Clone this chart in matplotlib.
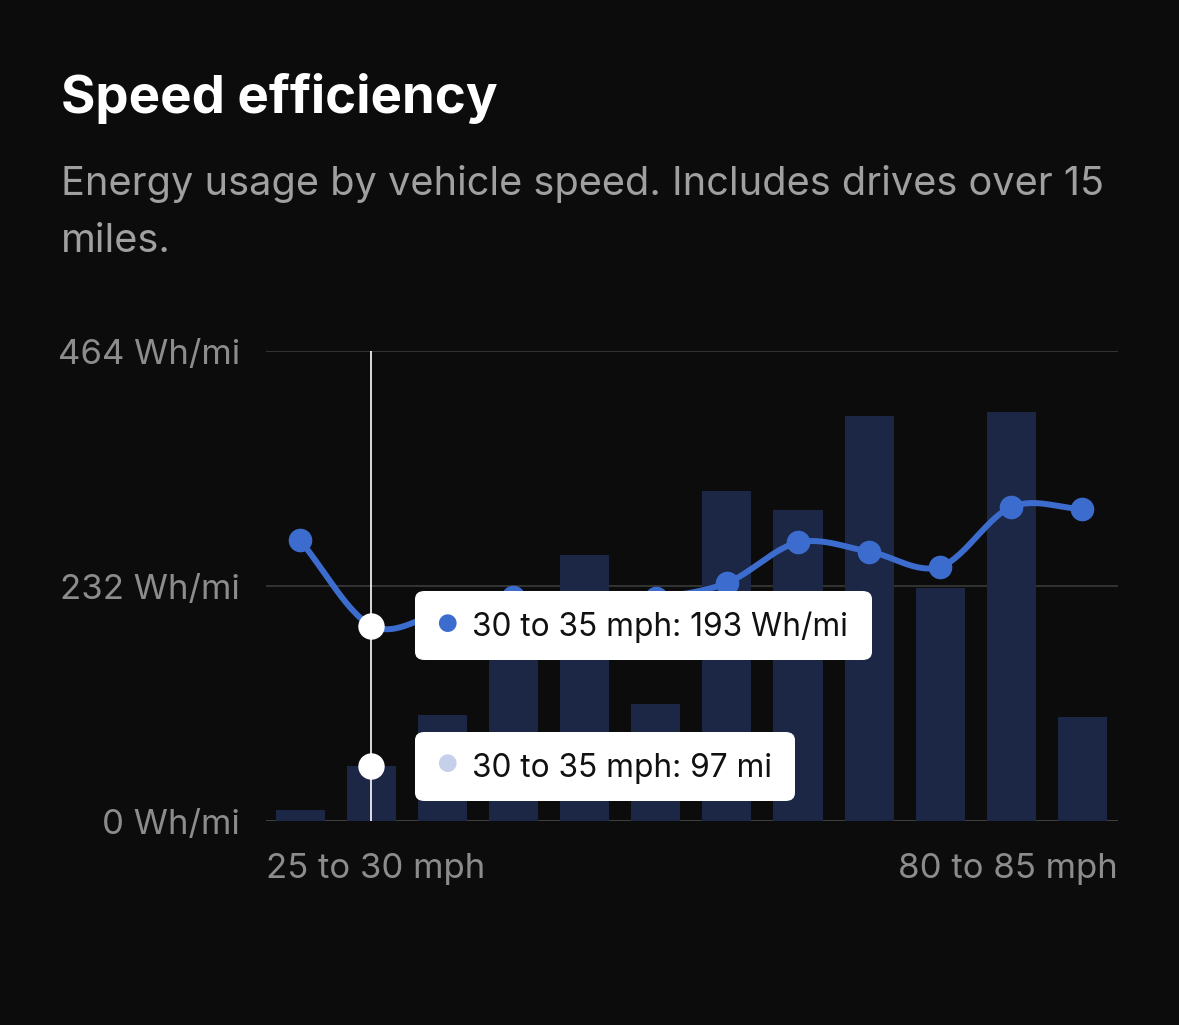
import numpy as np
import matplotlib.pyplot as plt
from matplotlib.patches import FancyBboxPatch

plt.rcParams["font.family"] = ["Inter", "DejaVu Sans"]

# speed buckets (mph), energy use (Wh/mi) and distance driven (mi)
speed_bins = ["25 to 30 mph", "30 to 35 mph", "35 to 40 mph", "40 to 45 mph",
              "45 to 50 mph", "50 to 55 mph", "55 to 60 mph", "60 to 65 mph",
              "65 to 70 mph", "70 to 75 mph", "75 to 80 mph", "80 to 85 mph"]
wh_per_mi = [277, 193, 206, 221, 212, 220, 235, 275, 266, 251, 310, 308]
distance_mi = [19, 97, 187, 330, 469, 206, 582, 548, 714, 411, 721, 183]

y_ticks = [0, 232, 464]
y_tick_labels = ["0 Wh/mi", "232 Wh/mi", "464 Wh/mi"]
sel = 1  # hovered bucket

BG = "#0c0c0c"
LINE = "#3d6ccf"
BAR = "#1b2744"


def catmull_rom(x, y, n=30):
    # smooth curve through the points, like the chart library draws
    x = np.asarray(x, float)
    y = np.asarray(y, float)
    px = np.concatenate([[2 * x[0] - x[1]], x, [2 * x[-1] - x[-2]]])
    py = np.concatenate([[2 * y[0] - y[1]], y, [2 * y[-1] - y[-2]]])
    xs, ys = [], []
    t = np.linspace(0, 1, n)
    for i in range(1, len(px) - 2):
        for p, out in ((px, xs), (py, ys)):
            p0, p1, p2, p3 = p[i - 1], p[i], p[i + 1], p[i + 2]
            out.extend(0.5 * ((2 * p1) + (-p0 + p2) * t
                              + (2 * p0 - 5 * p1 + 4 * p2 - p3) * t ** 2
                              + (-p0 + 3 * p1 - 3 * p2 + p3) * t ** 3))
    return np.array(xs), np.array(ys)


fig = plt.figure(figsize=(11.79, 10.25), dpi=100, facecolor=BG)
ax_bar = fig.add_axes([266 / 1179, 1 - 821 / 1025, 852 / 1179, 470 / 1025])
ax = ax_bar.twinx()

x = np.arange(len(speed_bins))

ax_bar.set_facecolor(BG)
ax_bar.bar(x, distance_mi, width=0.69, color=BAR, zorder=2)
ax_bar.set_ylim(0, 828)
ax_bar.set_xlim(-0.48, 11.5)

# gridlines live on the bar axes so they sit behind the bars
for v in y_ticks:
    ax_bar.axhline(v * 828 / 464, color="#4a4a4a" if v == 0 else "#3a3a3a",
                   lw=1.2, zorder=1)

ax.set_ylim(0, 464)
ax.set_xlim(-0.48, 11.5)
cx, cy = catmull_rom(x, wh_per_mi)
ax.plot(cx, cy, color=LINE, lw=4.3, solid_capstyle="round", zorder=3)
ax.plot(x, wh_per_mi, "o", color=LINE, ms=16, zorder=4)

# hover crosshair
ax.axvline(x[sel], color="white", lw=1.2, zorder=5)
ax.plot(x[sel], wh_per_mi[sel], "o", color="white", ms=18, zorder=6)
ax.plot(x[sel], distance_mi[sel] * 464 / 828, "o", color="white", ms=18, zorder=6)

for a in (ax_bar, ax):
    for s in a.spines.values():
        s.set_visible(False)
    a.set_yticks([])
    a.set_xticks([])

for v, lab in zip(y_ticks, y_tick_labels):
    ax.text(-0.48 - 26 / 71, v - 4, lab, ha="right", va="center",
            fontsize=25, color="#8c8c8c")

ax.text(-0.48, -47, speed_bins[0], ha="left", va="center",
        fontsize=25, color="#8c8c8c")
ax.text(11.5, -47, speed_bins[-1], ha="right", va="center",
        fontsize=25, color="#8c8c8c")

# tooltips (figure pixels)
def tooltip(x0, y0, w, h, dot_color, text):
    box = FancyBboxPatch((x0 / 1179, 1 - (y0 + h) / 1025), w / 1179, h / 1025,
                         boxstyle="round,pad=0,rounding_size=0.008",
                         transform=fig.transFigure, facecolor="white",
                         edgecolor="none", zorder=10)
    fig.patches.append(box)
    fig.text(447 / 1179, 1 - (y0 + h / 2) / 1025, "\u25CF", color=dot_color,
             fontsize=17, ha="center", va="center", zorder=11)
    fig.text(472 / 1179, 1 - (y0 + h / 2 + 2) / 1025, text, color="#111111",
             fontsize=22.8, ha="left", va="center", zorder=11)


tooltip(415, 591, 457, 69, LINE,
        f"{speed_bins[sel]}: {wh_per_mi[sel]} Wh/mi")
tooltip(415, 732, 380, 69, "#c5d0ea",
        f"{speed_bins[sel]}: {distance_mi[sel]} mi")

fig.text(61 / 1179, 1 - 99 / 1025, "Speed efficiency", color="white",
         fontsize=38, fontweight="bold", ha="left", va="center")
fig.text(61 / 1179, 1 - 184 / 1025,
         "Energy usage by vehicle speed. Includes drives over 15",
         color="#a0a0a0", fontsize=28.6, ha="left", va="center")
fig.text(61 / 1179, 1 - 242 / 1025, "miles.",
         color="#a0a0a0", fontsize=28.6, ha="left", va="center")

fig.savefig("out.png", dpi=100, facecolor=BG)
